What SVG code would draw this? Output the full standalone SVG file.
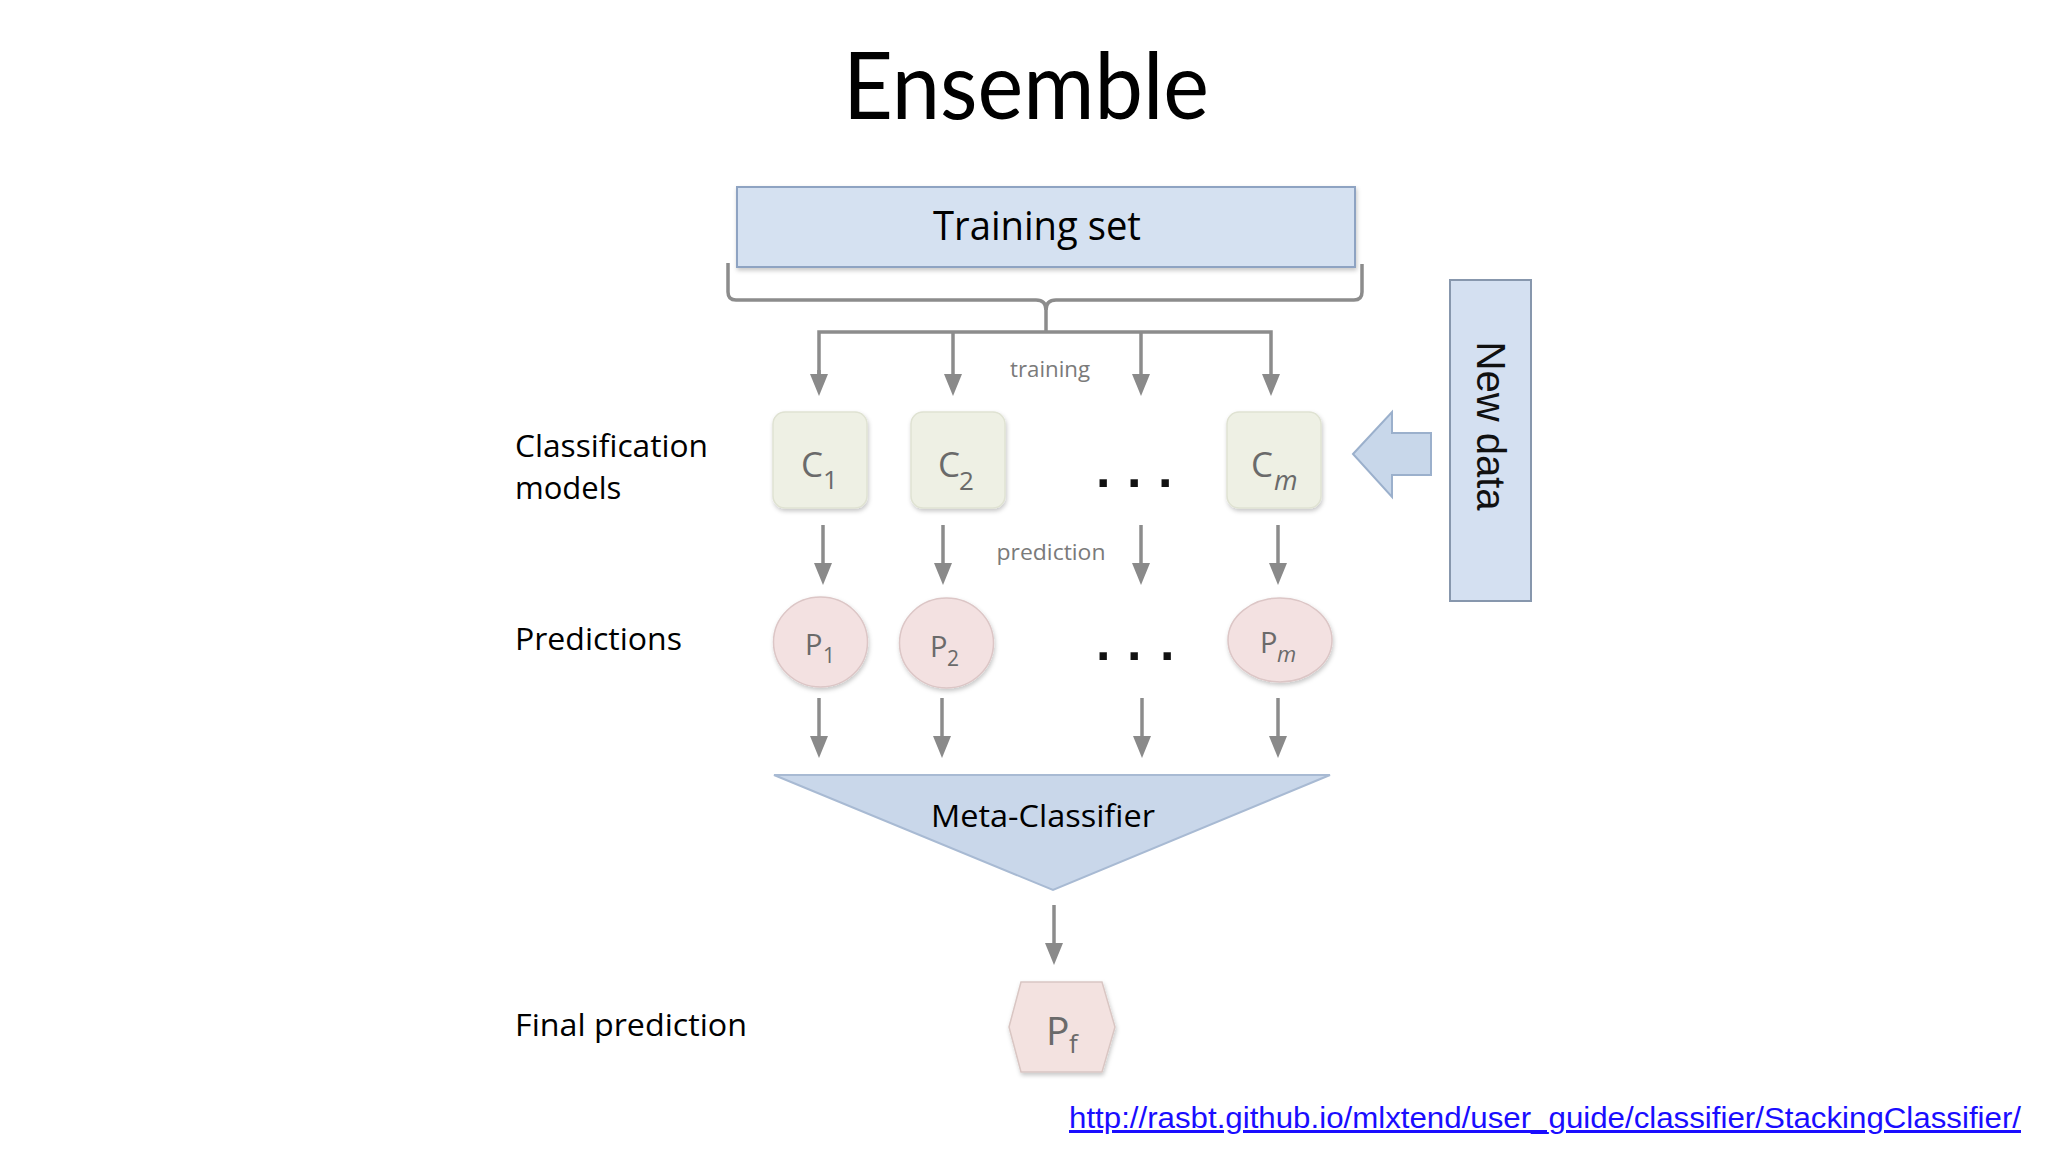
<svg xmlns="http://www.w3.org/2000/svg" width="2048" height="1152" viewBox="0 0 2048 1152">
<style>
.lbl{font-family:"Open Sans","Liberation Sans",sans-serif;font-size:31px;fill:#000}
.node{font-family:"Open Sans","Liberation Sans",sans-serif;fill:#6a6a6a}
.small{font-family:"Open Sans","Liberation Sans",sans-serif;font-size:22px;fill:#7a7a7a}
.dots{font-family:"Liberation Sans",sans-serif;font-weight:bold;font-size:52px;fill:#111}
.cbox{fill:#eef0e4;stroke:#dfe2d2;stroke-width:1.5}
.pnode{fill:#f3e1e1;stroke:#dcc6c6;stroke-width:1.5}
.blue{fill:#d5e1f1;stroke:#8ea3c2;stroke-width:2}
.conn{fill:none;stroke:#8c8c8c;stroke-width:3.5}
</style>
<defs>
<marker id="ah" markerUnits="userSpaceOnUse" markerWidth="22" markerHeight="18" viewBox="0 0 22 18" refX="10" refY="9" orient="auto">
<path d="M0,0 L22,9 L0,18 z" fill="#8a8a8a"/>
</marker>
<filter id="sh" x="-20%" y="-20%" width="140%" height="140%">
<feDropShadow dx="1" dy="2.5" stdDeviation="2" flood-color="#000" flood-opacity="0.22"/>
</filter>
</defs>
<rect width="2048" height="1152" fill="#fff"/>

<text id="title" x="1026" y="119" text-anchor="middle" textLength="366" lengthAdjust="spacingAndGlyphs" font-family="Lato,'Open Sans',sans-serif" font-size="94" fill="#000">Ensemble</text>

<g id="training-set">
<rect x="737" y="187" width="618" height="80" class="blue" filter="url(#sh)"/>
<text x="1037" y="240" text-anchor="middle" textLength="208" lengthAdjust="spacingAndGlyphs" class="lbl" style="font-size:40px;font-weight:500">Training set</text>
</g>

<g id="new-data">
<rect x="1450" y="280" width="81" height="321" fill="#d4e0f1" stroke="#8797ad" stroke-width="2"/>
<text transform="translate(1477,426) rotate(90)" text-anchor="middle" font-family="'Liberation Sans',Arial,sans-serif" font-size="40" fill="#111">New data</text>
</g>

<g id="new-data-arrow">
<polygon points="1353,454 1392,412 1392,433 1431,433 1431,475 1392,475 1392,497" fill="#c8d7ea" stroke="#9bb0cc" stroke-width="2"/>
</g>

<g id="labels">
<text class="lbl" x="515" y="457" textLength="193" lengthAdjust="spacingAndGlyphs">Classification</text>
<text class="lbl" x="515" y="499">models</text>
<text class="lbl" x="515" y="650" textLength="167" lengthAdjust="spacingAndGlyphs">Predictions</text>
<text class="lbl" x="515" y="1036" textLength="232" lengthAdjust="spacingAndGlyphs">Final prediction</text>
</g>

<g id="C1">
<rect x="773" y="412" width="94" height="96" rx="12" class="cbox" filter="url(#sh)"/>
<text class="node" font-size="35"><tspan x="801" y="477">C</tspan><tspan x="823" y="489" font-size="26">1</tspan></text>
</g>
<g id="C2">
<rect x="911" y="412" width="94" height="96" rx="12" class="cbox" filter="url(#sh)"/>
<text class="node" font-size="35"><tspan x="938" y="477">C</tspan><tspan x="959" y="490" font-size="26">2</tspan></text>
</g>
<g id="Cm">
<rect x="1227" y="412" width="94" height="96" rx="12" class="cbox" filter="url(#sh)"/>
<text class="node" font-size="35"><tspan x="1251" y="477">C</tspan><tspan x="1274" y="490" font-size="27" font-style="italic">m</tspan></text>
</g>
<text id="dots-c" class="dots" x="1096 1127 1158" y="487">...</text>

<g id="P1">
<ellipse cx="820.5" cy="642" rx="47" ry="45" class="pnode" filter="url(#sh)"/>
<text class="node" font-size="29"><tspan x="805" y="655">P</tspan><tspan x="823" y="663" font-size="21">1</tspan></text>
</g>
<g id="P2">
<ellipse cx="946.5" cy="643" rx="47" ry="45" class="pnode" filter="url(#sh)"/>
<text class="node" font-size="29"><tspan x="930" y="657">P</tspan><tspan x="947" y="666" font-size="21">2</tspan></text>
</g>
<g id="Pm">
<ellipse cx="1280" cy="640" rx="52" ry="42" class="pnode" filter="url(#sh)"/>
<text class="node" font-size="29"><tspan x="1260" y="653">P</tspan><tspan x="1277" y="662" font-size="22" font-style="italic">m</tspan></text>
</g>
<text id="dots-p" class="dots" x="1096 1127 1160" y="660">...</text>

<g id="meta-classifier">
<polygon points="774,775 1330,775 1053,890" fill="#c9d7ea" stroke="#a8bad3" stroke-width="2"/>
<text class="lbl" x="1043" y="827" text-anchor="middle" textLength="224" lengthAdjust="spacingAndGlyphs">Meta-Classifier</text>
</g>

<g id="Pf">
<polygon points="1021,982 1102,982 1115,1027 1102,1072 1021,1072 1009,1027" fill="#f3e2e0" stroke="#d9c6c3" stroke-width="1.5" filter="url(#sh)"/>
<text class="node" font-size="39"><tspan x="1046" y="1045">P</tspan><tspan x="1069" y="1053" font-size="26">f</tspan></text>
</g>

<g id="connectors">
<path class="conn" d="M728,263 L728,292 Q728,300 736,300 L1036,300 Q1046,300 1046,310 Q1046,300 1056,300 L1354,300 Q1362,300 1362,292 L1362,264"/>
<path class="conn" d="M1046,305 L1046,332"/>
<path class="conn" d="M819,384 L819,332 L1271,332 L1271,384" marker-end="url(#ah)"/>
<path class="conn" d="M819,370 L819,384" marker-end="url(#ah)"/>
<path class="conn" d="M953,332 L953,384" marker-end="url(#ah)"/>
<path class="conn" d="M1141,332 L1141,384" marker-end="url(#ah)"/>
<text class="small" x="1050" y="377" text-anchor="middle" textLength="80" lengthAdjust="spacingAndGlyphs">training</text>

<path class="conn" d="M823,525 L823,573" marker-end="url(#ah)"/>
<path class="conn" d="M943,525 L943,573" marker-end="url(#ah)"/>
<path class="conn" d="M1141,525 L1141,573" marker-end="url(#ah)"/>
<path class="conn" d="M1278,525 L1278,573" marker-end="url(#ah)"/>
<text class="small" x="1051" y="560" text-anchor="middle" textLength="109" lengthAdjust="spacingAndGlyphs">prediction</text>

<path class="conn" d="M819,698 L819,746" marker-end="url(#ah)"/>
<path class="conn" d="M942,698 L942,746" marker-end="url(#ah)"/>
<path class="conn" d="M1142,698 L1142,746" marker-end="url(#ah)"/>
<path class="conn" d="M1278,698 L1278,746" marker-end="url(#ah)"/>

<path class="conn" d="M1054,905 L1054,953" marker-end="url(#ah)"/>
</g>

<text id="url" x="1069" y="1128" textLength="952" lengthAdjust="spacingAndGlyphs" font-family="'Liberation Sans',Arial,sans-serif" font-size="30" fill="#1a0dff" text-decoration="underline">http://rasbt.github.io/mlxtend/user_guide/classifier/StackingClassifier/</text>
</svg>
